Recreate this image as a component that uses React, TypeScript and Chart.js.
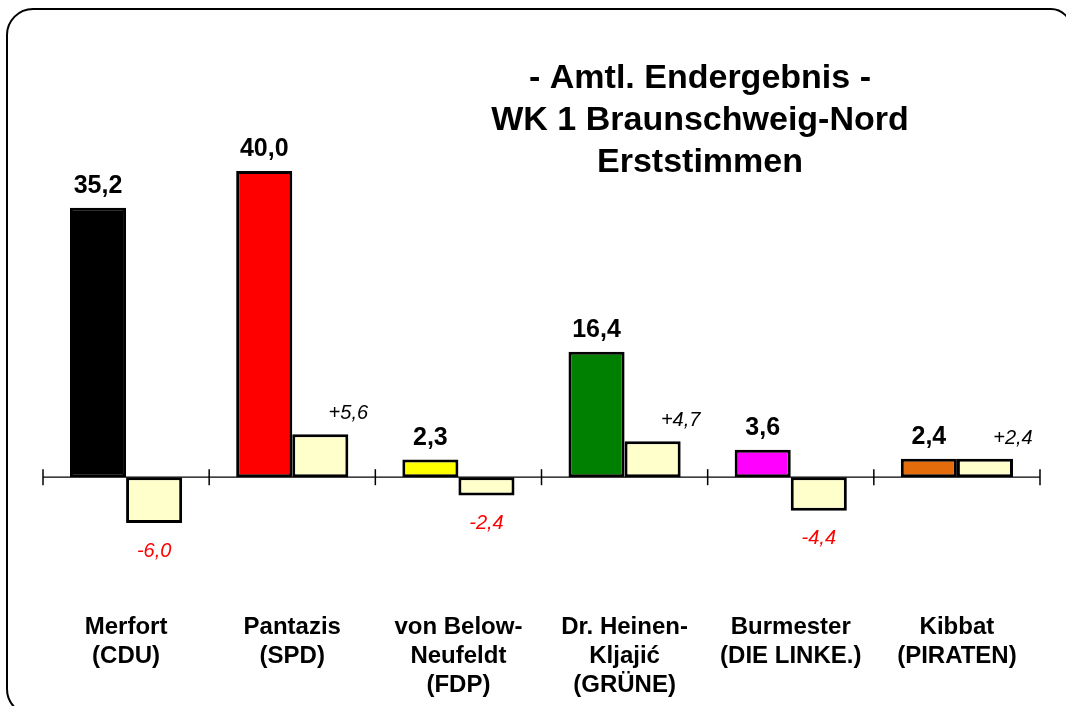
import { useEffect, useRef } from "react";
import { Chart, registerables } from "chart.js";

Chart.register(...registerables);

const categories: string[][] = [
  ["Merfort", "(CDU)"],
  ["Pantazis", "(SPD)"],
  ["von Below-", "Neufeldt", "(FDP)"],
  ["Dr. Heinen-", "Kljajić", "(GRÜNE)"],
  ["Burmester", "(DIE LINKE.)"],
  ["Kibbat", "(PIRATEN)"],
];
const results: number[] = [35.2, 40.0, 2.3, 16.4, 3.6, 2.4];
const changes: number[] = [-6.0, 5.6, -2.4, 4.7, -4.4, 2.4];
const partyColors: string[] = ["#000000", "#FF0000", "#FFFF00", "#008000", "#FF00FF", "#E46C0A"];
const changeColor = "#FFFFCC";
const titleLines: string[] = ["- Amtl. Endergebnis -", "WK 1 Braunschweig-Nord", "Erststimmen"];

const FONT = "'Liberation Sans', Arial, Helvetica, sans-serif";

const fmt = (v: number) => v.toFixed(1).replace(".", ",");
const fmtChange = (v: number) => (v > 0 ? "+" : "") + v.toFixed(1).replace(".", ",");

export default function App() {
  const ref = useRef<HTMLCanvasElement>(null);

  useEffect(() => {
    const canvas = ref.current;
    if (!canvas) return;

    const framePlugin = {
      id: "frame",
      beforeDraw(chart: any) {
        const ctx = chart.ctx;
        ctx.save();
        ctx.fillStyle = "#ffffff";
        ctx.fillRect(0, 0, chart.width, chart.height);
        ctx.beginPath();
        ctx.roundRect(7, 9, 1064, 706, [26, 20, 20, 26]);
        ctx.lineWidth = 2;
        ctx.strokeStyle = "#000000";
        ctx.stroke();
        ctx.restore();
      },
    };

    const axisPlugin = {
      id: "zeroAxis",
      beforeDatasetsDraw(chart: any) {
        const ctx = chart.ctx;
        const xs = chart.scales.x;
        const ys = chart.scales.y;
        const y0 = ys.getPixelForValue(0);
        const n = categories.length;
        const step = (xs.right - xs.left) / n;
        ctx.save();
        ctx.strokeStyle = "#000000";
        ctx.lineWidth = 1.2;
        ctx.beginPath();
        ctx.moveTo(xs.left, y0);
        ctx.lineTo(xs.right, y0);
        ctx.stroke();
        ctx.lineWidth = 1.5;
        for (let i = 0; i <= n; i++) {
          const x = xs.getPixelForValue(0) - step / 2 + i * step;
          ctx.beginPath();
          ctx.moveTo(x, y0 - 8);
          ctx.lineTo(x, y0 + 8);
          ctx.stroke();
        }
        ctx.restore();
      },
    };

    const labelPlugin = {
      id: "barLabels",
      afterDatasetsDraw(chart: any) {
        const ctx = chart.ctx;
        ctx.save();
        ctx.textAlign = "center";
        const m0 = chart.getDatasetMeta(0);
        m0.data.forEach((bar: any, i: number) => {
          const top = Math.min(bar.y, bar.base);
          ctx.font = `bold 25px ${FONT}`;
          ctx.fillStyle = "#000000";
          ctx.textBaseline = "alphabetic";
          ctx.fillText(fmt(results[i]), bar.x, top - 15);
        });
        const m1 = chart.getDatasetMeta(1);
        m1.data.forEach((bar: any, i: number) => {
          const v = changes[i];
          ctx.font = `italic 20px ${FONT}`;
          if (v >= 0) {
            const top = Math.min(bar.y, bar.base);
            ctx.fillStyle = "#000000";
            ctx.textBaseline = "alphabetic";
            ctx.fillText(fmtChange(v), bar.x + bar.width / 2, top - 15);
          } else {
            const bottom = Math.max(bar.y, bar.base);
            ctx.fillStyle = "#FF0000";
            ctx.textBaseline = "top";
            ctx.fillText(fmtChange(v), bar.x, bottom + 18);
          }
        });
        ctx.restore();
      },
    };

    const titlePlugin = {
      id: "customTitle",
      afterDraw(chart: any) {
        const ctx = chart.ctx;
        ctx.save();
        ctx.font = `bold 34px ${FONT}`;
        ctx.fillStyle = "#000000";
        ctx.textAlign = "center";
        ctx.textBaseline = "alphabetic";
        const baselines = [88, 130, 172];
        titleLines.forEach((t, i) => ctx.fillText(t, 700, baselines[i]));
        ctx.restore();
      },
    };

    const chart = new Chart(canvas, {
      type: "bar",
      data: {
        labels: categories,
        datasets: [
          {
            label: "Ergebnis",
            data: results,
            backgroundColor: partyColors,
            borderColor: "#000000",
            borderWidth: 3,
            borderSkipped: false,
          },
          {
            label: "Veränderung",
            data: changes,
            backgroundColor: changeColor,
            borderColor: "#000000",
            borderWidth: 3,
            borderSkipped: false,
          },
        ],
      },
      options: {
        responsive: false,
        animation: false,
        devicePixelRatio: 1,
        layout: { padding: { left: 43, right: 26, top: 132.75, bottom: 0 } },
        datasets: { bar: { categoryPercentage: 0.675, barPercentage: 1 } },
        plugins: {
          legend: { display: false },
          tooltip: { enabled: false },
          title: { display: false },
        },
        scales: {
          x: {
            grid: { display: false, drawTicks: false },
            border: { display: false },
            afterFit(scale: any) {
              scale.height = 114;
            },
            ticks: {
              color: "#000000",
              font: { family: FONT, size: 24, weight: "bold", lineHeight: 29 / 24 },
              padding: 21,
              maxRotation: 0,
              minRotation: 0,
              autoSkip: false,
            },
          },
          y: {
            display: false,
            min: -15,
            max: 45,
          },
        },
      },
      plugins: [framePlugin, axisPlugin, labelPlugin, titlePlugin],
    } as any);

    return () => chart.destroy();
  }, []);

  return (
    <div style={{ position: "fixed", left: 0, top: 0, width: 1066, height: 706, background: "#ffffff", overflow: "hidden" }}>
      <canvas ref={ref} width={1066} height={706} style={{ display: "block", width: 1066, height: 706 }} />
    </div>
  );
}
